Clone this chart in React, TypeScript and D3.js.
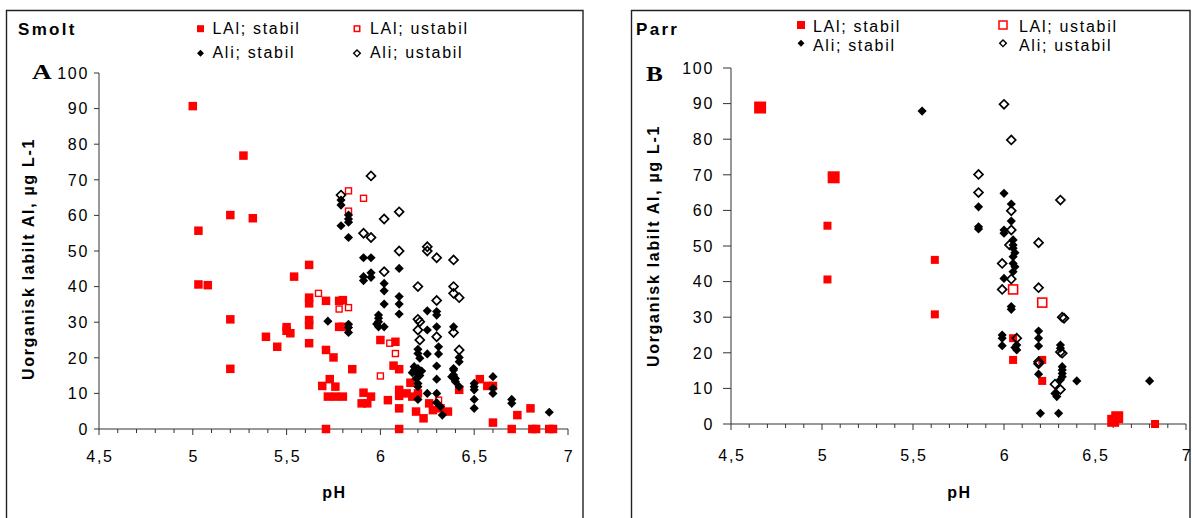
import React from 'react';
import * as d3 from 'd3';

type Pt = [number, number];

// ---------- DATA (pH, Al µg/L) ----------
const smoltLAlStabil: Pt[] = [
  [5.00, 90.7], [5.27, 76.8], [5.20, 60.1], [5.32, 59.2], [5.03, 55.7], [5.62, 46.1], [5.54, 42.8],
  [5.03, 40.6], [5.08, 40.4], [5.62, 36.9], [5.62, 35.3], [5.71, 36.0], [5.78, 36.0], [5.80, 36.2],
  [5.20, 30.8], [5.62, 30.6], [5.62, 29.2], [5.78, 28.7], [5.80, 28.7], [5.50, 28.6], [5.50, 27.6],
  [5.52, 26.9], [5.39, 25.9], [5.45, 23.1], [5.62, 24.1], [5.71, 22.2], [5.75, 20.1], [5.20, 16.9],
  [5.73, 14.0], [5.69, 12.1], [5.76, 11.9], [5.72, 9.1], [5.76, 9.1], [5.80, 9.1], [5.71, 0],
  [5.85, 16.8], [5.91, 10.2], [5.95, 9.1], [5.90, 7.2], [5.93, 7.2], [6.00, 25.0], [6.08, 24.5],
  [6.07, 17.8], [6.10, 16.8], [6.04, 8.1], [6.10, 11.0], [6.10, 9.3], [6.10, 5.8], [6.10, 0],
  [6.14, 10.0], [6.17, 9.1], [6.20, 10.0], [6.16, 13.0], [6.19, 4.9], [6.23, 3.0], [6.26, 7.2],
  [6.28, 5.3], [6.32, 5.8], [6.36, 4.9], [6.42, 11.0], [6.53, 14.0], [6.57, 12.1], [6.60, 12.1],
  [6.60, 1.8], [6.73, 3.9], [6.80, 5.8], [6.70, 0], [6.81, 0], [6.83, 0], [6.90, 0], [6.92, 0],
];
const smoltLAlUstabil: Pt[] = [
  [5.83, 66.9], [5.91, 64.8], [5.83, 61.2], [5.67, 38.1], [5.78, 33.7], [5.83, 34.1],
  [6.05, 24.1], [6.08, 21.2], [6.00, 14.9], [6.31, 8.1],
];
const smoltAliStabil: Pt[] = [
  [5.79, 64.3], [5.79, 62.9], [5.83, 60.1], [5.83, 59.0], [5.83, 58.1], [5.79, 57.1], [5.83, 53.8],
  [5.91, 48.1], [5.95, 48.1], [6.10, 45.1], [5.91, 42.8], [5.95, 43.9], [5.95, 42.6], [5.91, 41.7],
  [6.02, 40.9], [6.02, 38.8], [6.10, 37.2], [6.10, 35.1], [6.02, 35.1], [6.10, 32.3], [6.25, 33.2],
  [6.30, 33.0], [5.72, 30.3], [5.83, 29.4], [5.83, 28.5], [5.83, 27.1], [5.99, 32.0], [5.99, 31.1],
  [5.99, 30.1], [5.98, 29.5], [5.99, 28.7], [6.02, 28.7], [6.30, 32.0], [6.25, 27.8], [6.30, 28.7],
  [6.39, 28.7], [6.20, 22.4], [6.20, 21.2], [6.21, 19.9], [6.25, 21.1], [6.31, 23.1], [6.31, 21.1],
  [6.30, 17.7], [6.42, 20.1], [6.42, 18.9], [6.18, 17.5], [6.18, 16.5], [6.20, 17.0], [6.20, 15.5],
  [6.17, 15.8], [6.21, 15.0], [6.19, 14.2], [6.22, 16.3], [6.20, 12.8], [6.20, 11.9], [6.20, 8.3],
  [6.25, 10.0], [6.30, 14.0], [6.30, 10.0], [6.30, 7.4], [6.32, 6.3], [6.33, 3.9], [6.39, 16.6],
  [6.39, 15.2], [6.38, 14.7], [6.40, 14.2], [6.42, 11.9], [6.39, 17.0], [6.40, 13.3], [6.50, 12.8],
  [6.50, 11.9], [6.50, 11.0], [6.50, 8.3], [6.50, 5.8], [6.60, 14.7], [6.60, 11.4], [6.60, 10.0],
  [6.70, 8.3], [6.70, 7.2], [6.90, 4.7],
];
const smoltAliUstabil: Pt[] = [
  [5.95, 71.1], [5.79, 65.7], [6.02, 59.0], [6.10, 61.0], [5.91, 55.0], [5.95, 53.8], [6.10, 50.0],
  [6.25, 51.2], [6.25, 50.0], [6.30, 48.1], [6.39, 47.5], [6.02, 44.2], [6.20, 40.0], [6.39, 40.0],
  [6.39, 38.1], [6.42, 36.9], [6.30, 36.1], [6.20, 30.8], [6.21, 30.1], [6.20, 27.8], [6.30, 25.9],
  [6.39, 27.1], [6.21, 25.0], [6.42, 22.2],
];

// Parr: small filled red squares, plus the points drawn with the larger filled marker
const parrLAlStabil: Pt[] = [
  [5.03, 55.7], [5.03, 40.6], [5.62, 46.1], [5.62, 30.8], [6.05, 24.1], [6.05, 18.0],
  [6.21, 18.0], [6.21, 12.1], [6.83, 0],
];
const parrLAlStabilLarge: Pt[] = [[4.66, 88.9], [5.064, 69.3], [6.60, 0.9], [6.622, 1.9]];
const parrLAlUstabil: Pt[] = [[6.05, 37.8], [6.21, 34.1]];
const parrAliStabil: Pt[] = [
  [5.55, 87.9], [6.00, 64.8], [5.86, 61.0], [6.04, 61.8], [6.04, 57.0], [5.86, 55.4], [5.86, 54.8],
  [6.00, 54.5], [6.00, 53.6], [6.05, 51.7], [6.05, 50.3], [6.05, 49.4], [6.06, 48.1], [6.05, 47.0],
  [6.05, 45.1], [6.06, 44.2], [6.05, 42.8], [6.00, 40.9], [6.04, 33.0], [6.04, 32.2], [5.99, 25.0],
  [5.99, 24.1], [5.99, 22.0], [6.07, 22.2], [6.07, 20.8], [6.06, 21.5], [6.19, 26.1], [6.19, 24.1],
  [6.19, 21.9], [6.19, 14.0], [6.31, 22.2], [6.31, 21.3], [6.32, 16.1], [6.32, 15.2], [6.32, 14.2],
  [6.32, 13.3], [6.31, 12.4], [6.28, 8.6], [6.29, 7.7], [6.40, 12.1], [6.80, 12.1], [6.20, 3.0],
  [6.30, 3.0],
];
const parrAliUstabil: Pt[] = [
  [6.00, 89.8], [6.04, 79.8], [5.86, 70.1], [5.86, 65.0], [6.31, 62.9], [6.04, 59.9], [6.04, 54.5],
  [6.03, 50.3], [6.19, 50.9], [5.99, 45.1], [6.04, 40.7], [5.99, 37.8], [6.19, 38.3], [6.32, 30.0],
  [6.33, 29.7], [6.07, 24.1], [6.19, 17.5], [6.19, 16.9], [6.31, 20.2], [6.32, 19.9], [6.28, 11.2],
  [6.31, 9.7],
];

const xTicks = [4.5, 5, 5.5, 6, 6.5, 7];
const xTickLabels = ['4,5', '5', '5,5', '6', '6,5', '7'];
const yTicks = [0, 10, 20, 30, 40, 50, 60, 70, 80, 90, 100];
const legendLabels = ['LAl; stabil', 'LAl; ustabil', 'Ali; stabil', 'Ali; ustabil'];
const xTitle = 'pH';
const yTitle = 'Uorganisk labilt Al, µg L-1';

// ---------- LAYOUT ----------
const FONT = "'Liberation Sans', Arial, Helvetica, sans-serif";
const SERIF = "'Liberation Serif', 'Times New Roman', serif";
const RED = '#ff0000';
const FS = 16;
const LS = 1.7;

type Cfg = {
  frameX: number; frameW: number;
  x0: number; x1: number; yb: number; yt: number;
  title: string; titleX: number; titleY: number;
  letter: string; letterX: number; letterY: number; letterSX: number;
  yLabX: number; yTickLen: number; xLabY: number; pHY: number;
  yTitleX: number; yTitleY: number;
  lgCol: [number, number]; lgTextDx: [number, number]; lgRow: [number, number]; lgBase: [number, number];
  lgSq: [number, number];
  sqFill: number; sqOpen: number; sqOpenStroke: number; sqLarge: number;
  series: Pt[][];
  large: Pt[];
};

const left: Cfg = {
  frameX: 6.5, frameW: 576.5,
  x0: 99, x1: 568, yb: 429, yt: 73,
  title: 'Smolt', titleX: 18, titleY: 35,
  letter: 'A', letterX: 32, letterY: 79, letterSX: 1.3,
  yLabX: 89, yTickLen: 5, xLabY: 462, pHY: 498,
  yTitleX: 34, yTitleY: 259,
  lgCol: [200.5, 357], lgTextDx: [12, 13], lgRow: [28.7, 53.3], lgBase: [34, 58],
  lgSq: [7, 7],
  sqFill: 8.5, sqOpen: 6, sqOpenStroke: 1.4, sqLarge: 12,
  series: [smoltLAlStabil, smoltLAlUstabil, smoltAliStabil, smoltAliUstabil],
  large: [],
};

const right: Cfg = {
  frameX: 631.5, frameW: 558.5,
  x0: 731, x1: 1186, yb: 424, yt: 68,
  title: 'Parr', titleX: 636, titleY: 35,
  letter: 'B', letterX: 646, letterY: 80.5, letterSX: 1.2,
  yLabX: 714, yTickLen: 8, xLabY: 461, pHY: 498,
  yTitleX: 659, yTitleY: 246,
  lgCol: [801, 1003], lgTextDx: [12, 16], lgRow: [25, 43.3], lgBase: [32, 50.5],
  lgSq: [8, 9.5],
  sqFill: 8, sqOpen: 9, sqOpenStroke: 1.6, sqLarge: 12,
  series: [parrLAlStabil, parrLAlUstabil, parrAliStabil, parrAliUstabil],
  large: parrLAlStabilLarge,
};

const diamondPath = (area: number) => d3.symbol().type(d3.symbolSquare).size(area)() as string;

const Panel: React.FC<{ c: Cfg }> = ({ c }) => {
  const x = d3.scaleLinear().domain([4.5, 7]).range([c.x0, c.x1]);
  const y = d3.scaleLinear().domain([0, 100]).range([c.yb, c.yt]);
  const minor = x.ticks(25);
  const dFill = diamondPath(42);
  const dOpen = diamondPath(40);
  const dLeg = diamondPath(24);
  const [lf, lo, af, ao] = c.series;
  return (
    <g>
      <path d={`M${c.frameX},530V10.5H${c.frameX + c.frameW}V530`} fill="none" stroke="#222" strokeWidth={1.4} />
      <text x={c.titleX} y={c.titleY} fontFamily={FONT} fontWeight="bold" fontSize={17} letterSpacing={2.3}>{c.title}</text>
      <text transform={`translate(${c.letterX},${c.letterY}) scale(${c.letterSX},1)`} fontFamily={SERIF} fontWeight="bold" fontSize={21}>{c.letter}</text>

      {/* legend */}
      <rect x={c.lgCol[0] - c.lgSq[0] / 2} y={c.lgRow[0] - c.lgSq[0] / 2} width={c.lgSq[0]} height={c.lgSq[0]} fill={RED} />
      <rect x={c.lgCol[1] - c.lgSq[1] / 2 + 0.75} y={c.lgRow[0] - c.lgSq[1] / 2 + 0.75} width={c.lgSq[1] - 1.5} height={c.lgSq[1] - 1.5} fill="none" stroke={RED} strokeWidth={1.5} />
      <path d={dLeg} transform={`translate(${c.lgCol[0]},${c.lgRow[1]}) rotate(45)`} fill="#000" />
      <path d={diamondPath(22)} transform={`translate(${c.lgCol[1]},${c.lgRow[1]}) rotate(45)`} fill="none" stroke="#000" strokeWidth={1.4} />
      {legendLabels.map((t, i) => (
        <text key={t} x={c.lgCol[i % 2] + c.lgTextDx[i % 2]} y={c.lgBase[Math.floor(i / 2)]} fontFamily={FONT} fontSize={FS} letterSpacing={LS}>{t}</text>
      ))}

      {/* axes */}
      <line x1={c.x0} x2={c.x0} y1={c.yt} y2={c.yb} stroke="#333" strokeWidth={1} />
      <line x1={c.x0} x2={c.x1} y1={c.yb} y2={c.yb} stroke="#333" strokeWidth={1} />
      {yTicks.map((t) => (
        <g key={'y' + t}>
          <line x1={c.x0 - c.yTickLen} x2={c.x0} y1={y(t)} y2={y(t)} stroke="#333" />
          <text x={c.yLabX} y={y(t) + 5.8} textAnchor="end" fontFamily={FONT} fontSize={FS} letterSpacing={LS}>{t}</text>
        </g>
      ))}
      {minor.map((t, i) => (
        <line key={'m' + i} x1={x(t)} x2={x(t)} y1={c.yb} y2={c.yb + (i % 5 === 0 ? 6 : 4)} stroke="#333" />
      ))}
      {xTicks.map((t, i) => (
        <text key={'x' + t} x={x(t) + 1} y={c.xLabY} textAnchor="middle" fontFamily={FONT} fontSize={FS} letterSpacing={LS}>{xTickLabels[i]}</text>
      ))}
      <text x={(c.x0 + c.x1) / 2 + 1} y={c.pHY} textAnchor="middle" fontFamily={FONT} fontWeight="bold" fontSize={FS} letterSpacing={LS}>{xTitle}</text>
      <text transform={`translate(${c.yTitleX},${c.yTitleY}) rotate(-90)`} textAnchor="middle" fontFamily={FONT} fontWeight="bold" fontSize={FS} letterSpacing={LS}>{yTitle}</text>

      {/* marks */}
      {lf.map((d, i) => (
        <rect key={'lf' + i} x={x(d[0]) - c.sqFill / 2} y={y(d[1]) - c.sqFill / 2} width={c.sqFill} height={c.sqFill} fill={RED} />
      ))}
      {c.large.map((d, i) => (
        <rect key={'lg' + i} x={x(d[0]) - c.sqLarge / 2} y={y(d[1]) - c.sqLarge / 2} width={c.sqLarge} height={c.sqLarge} fill={RED} />
      ))}
      {lo.map((d, i) => (
        <rect key={'lo' + i} x={x(d[0]) - c.sqOpen / 2} y={y(d[1]) - c.sqOpen / 2} width={c.sqOpen} height={c.sqOpen} fill="none" stroke={RED} strokeWidth={c.sqOpenStroke} />
      ))}
      {af.map((d, i) => (
        <path key={'af' + i} d={dFill} transform={`translate(${x(d[0])},${y(d[1])}) rotate(45)`} fill="#000" />
      ))}
      {ao.map((d, i) => (
        <path key={'ao' + i} d={dOpen} transform={`translate(${x(d[0])},${y(d[1])}) rotate(45)`} fill="none" stroke="#000" strokeWidth={1.7} />
      ))}
    </g>
  );
};

export default function App() {
  return (
    <svg width={1192} height={518} viewBox="0 0 1192 518" style={{ position: 'absolute', left: 0, top: 0, background: '#fff' }}>
      <rect width={1192} height={518} fill="#fff" />
      <Panel c={left} />
      <Panel c={right} />
    </svg>
  );
}
